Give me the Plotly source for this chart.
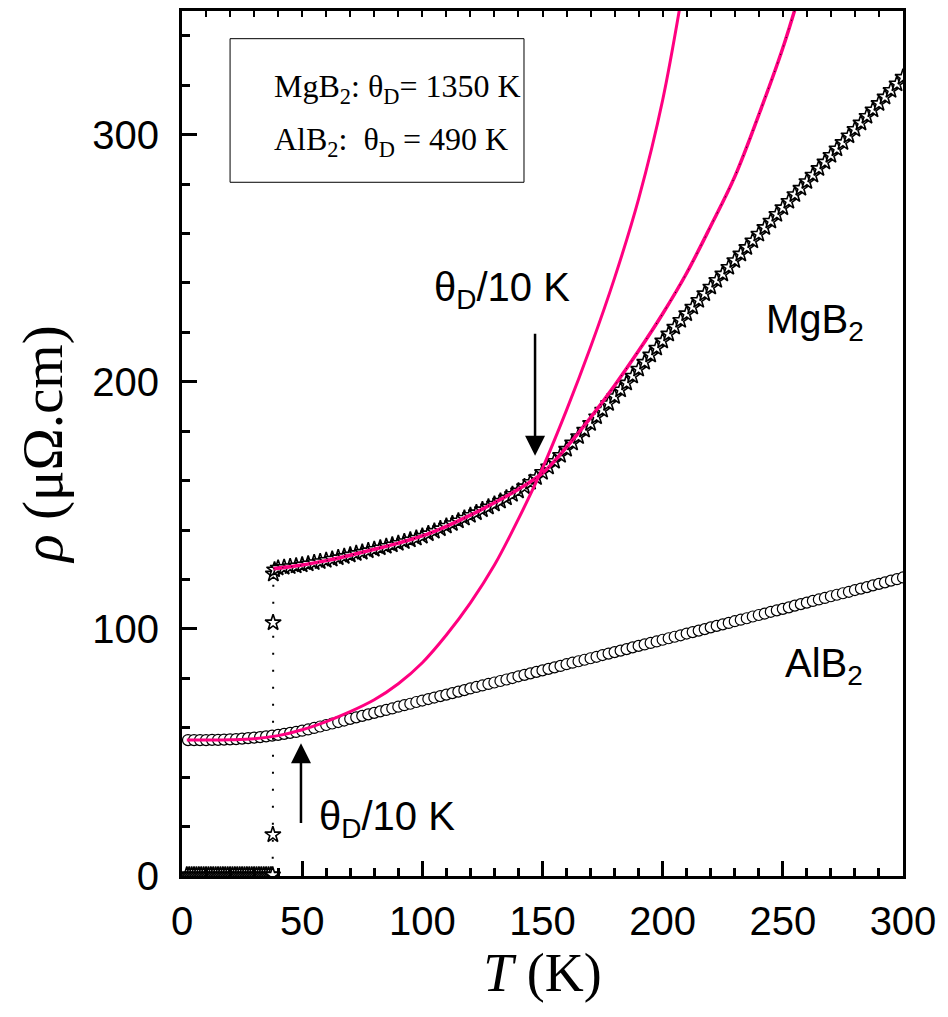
import plotly.graph_objects as go

# ---------------- measured resistivity data ----------------
# MgB2: superconducting state (rho ~ 0) and the transition near Tc
mgb2_sc_T = [2, 3, 4, 5, 6, 7, 8, 9, 10, 11, 12, 13, 14, 15, 16, 17, 18, 19, 20,
             21, 22, 23, 24, 25, 26, 27, 28, 29, 30, 31, 32, 33, 34, 35, 36, 37, 37.7]
mgb2_sc_rho = [0.4] * 37
mgb2_tr_T = [37.8, 37.9, 38.0, 38.5]
mgb2_tr_rho = [16.7, 102.5, 122.2, 123.9]

# MgB2: normal state
mgb2_T = [
    40, 42.5, 45, 47.5, 50, 52.5, 55, 57.5, 60, 62.5, 65, 67.5, 70, 72.5, 75, 77.5,
    80, 82.5, 85, 87.5, 90, 92.5, 95, 97.5, 100, 102.5, 105, 107.5, 110, 112.5, 115, 117.5,
    120, 122.5, 125, 127.5, 130, 132.5, 135, 137.5, 140, 142.5, 145, 147.5, 150, 152.5, 155, 157.5,
    160, 162.5, 165, 167.5, 170, 172.5, 175, 177.5, 180, 182.5, 185, 187.5, 190, 192.5, 195, 197.5,
    200, 202.5, 205, 207.5, 210, 212.5, 215, 217.5, 220, 222.5, 225, 227.5, 230, 232.5, 235, 237.5,
    240, 242.5, 245, 247.5, 250, 252.5, 255, 257.5, 260, 262.5, 265, 267.5, 270, 272.5, 275, 277.5,
    280, 282.5, 285, 287.5, 290, 292.5, 295, 297.5, 300,
]
mgb2_rho = [
    124.6, 124.9, 125.2, 125.5, 125.9, 126.3, 126.8, 127.2, 127.7, 128.2, 128.8, 129.3, 129.9, 130.5, 131.0, 131.6,
    132.2, 132.8, 133.4, 134.0, 134.6, 135.3, 136.0, 136.7, 137.5, 138.5, 139.5, 140.5, 141.6, 142.6, 143.7, 144.8,
    145.9, 147.0, 148.2, 149.3, 150.5, 151.7, 153.0, 154.4, 155.8, 157.5, 159.3, 161.2, 163.3, 165.5, 167.8, 170.2,
    172.7, 175.2, 177.8, 180.4, 183.1, 185.8, 188.5, 191.2, 194.0, 196.7, 199.5, 202.3, 205.1, 207.9, 210.8, 213.6,
    216.5, 219.3, 222.1, 224.8, 227.5, 230.2, 232.9, 235.6, 238.3, 241.0, 243.6, 246.3, 249.0, 251.7, 254.3, 257.0,
    259.7, 262.4, 265.0, 267.7, 270.4, 273.0, 275.7, 278.3, 281.0, 283.6, 286.3, 288.9, 291.6, 294.2, 296.8, 299.5,
    302.1, 304.7, 307.4, 310.0, 312.6, 315.2, 317.9, 320.5, 323.2,
]

# AlB2
alb2_T = [
    2.5, 5, 7.5, 10, 12.5, 15, 17.5, 20, 22.5, 25, 27.5, 30, 32.5, 35, 37.5, 40,
    42.5, 45, 47.5, 50, 52.5, 55, 57.5, 60, 62.5, 65, 67.5, 70, 72.5, 75, 77.5, 80,
    82.5, 85, 87.5, 90, 92.5, 95, 97.5, 100, 102.5, 105, 107.5, 110, 112.5, 115, 117.5, 120,
    122.5, 125, 127.5, 130, 132.5, 135, 137.5, 140, 142.5, 145, 147.5, 150, 152.5, 155, 157.5, 160,
    162.5, 165, 167.5, 170, 172.5, 175, 177.5, 180, 182.5, 185, 187.5, 190, 192.5, 195, 197.5, 200,
    202.5, 205, 207.5, 210, 212.5, 215, 217.5, 220, 222.5, 225, 227.5, 230, 232.5, 235, 237.5, 240,
    242.5, 245, 247.5, 250, 252.5, 255, 257.5, 260, 262.5, 265, 267.5, 270, 272.5, 275, 277.5, 280,
    282.5, 285, 287.5, 290, 292.5, 295, 297.5, 300,
]
alb2_rho = [
    55.0, 55.0, 55.0, 55.0, 55.1, 55.1, 55.2, 55.3, 55.4, 55.6, 55.8, 56.0, 56.2, 56.5, 56.8, 57.1,
    57.5, 57.9, 58.3, 58.8, 59.3, 59.9, 60.5, 61.1, 61.7, 62.3, 62.9, 63.6, 64.2, 64.8, 65.4, 66.0,
    66.6, 67.2, 67.8, 68.5, 69.1, 69.7, 70.4, 71.0, 71.6, 72.2, 72.8, 73.4, 74.0, 74.6, 75.2, 75.9,
    76.5, 77.1, 77.7, 78.3, 78.9, 79.5, 80.1, 80.8, 81.4, 82.0, 82.6, 83.2, 83.8, 84.4, 85.0, 85.7,
    86.3, 86.9, 87.5, 88.1, 88.7, 89.4, 90.0, 90.6, 91.2, 91.8, 92.5, 93.1, 93.7, 94.3, 94.9, 95.6,
    96.2, 96.8, 97.4, 98.1, 98.7, 99.3, 99.9, 100.6, 101.2, 101.8, 102.4, 103.1, 103.7, 104.3, 105.0, 105.6,
    106.2, 106.9, 107.5, 108.1, 108.7, 109.4, 110.0, 110.6, 111.3, 111.9, 112.5, 113.2, 113.8, 114.4, 115.0, 115.7,
    116.3, 116.9, 117.6, 118.2, 118.8, 119.5, 120.1, 120.8,
]

# ---------------- Bloch-Grueneisen fit curves ----------------
fit_mgb2_T = [38, 50, 60, 70, 80, 90, 100, 110, 120, 130, 140, 150, 160, 170, 180, 190,
              200, 210, 220, 230, 240, 250, 260]
fit_mgb2_rho = [124.3, 125.8, 127.6, 129.8, 132.2, 134.7, 137.6, 141.5, 146.0, 151.0, 156.5, 163.0,
                173.5, 185.5, 198.5, 212.5, 227.5, 244.0, 263.0, 283.0, 308.0, 335.0, 367.0]

fit_alb2_T = [2, 10, 20, 30, 40, 50, 60, 70, 80, 90, 100, 110, 120, 130, 140, 150,
              160, 170, 180, 190, 200, 210]
fit_alb2_rho = [55.0, 55.0, 55.1, 55.5, 56.8, 59.2, 62.5, 66.5, 71.3, 77.8, 86.3, 97.5, 110.5, 125.8,
                144.5, 165.0, 188.5, 214.0, 242.0, 274.0, 314.0, 368.0]

# theta_D / 10 markers (arrow tip and tail, T in K, rho in uOhm.cm)
arrow_mgb2 = dict(T=146.9, tip=170.0, tail=220.0)
arrow_alb2 = dict(T=49.5, tip=53.7, tail=20.8)

PINK = "#FF0080"
SANS = "Liberation Sans, Arial, sans-serif"
SERIF = "Liberation Serif, Times New Roman, serif"

fig = go.Figure()

# AlB2 open circles
fig.add_trace(go.Scatter(
    x=alb2_T, y=alb2_rho, mode="markers",
    marker=dict(symbol="circle", size=11, color="white", line=dict(color="black", width=1.2)),
    showlegend=False,
))

# MgB2 open stars joined by a dotted line (through the transition)
all_mg_T = mgb2_sc_T + mgb2_tr_T + mgb2_T
all_mg_rho = mgb2_sc_rho + mgb2_tr_rho + mgb2_rho
fig.add_trace(go.Scatter(
    x=all_mg_T, y=all_mg_rho, mode="lines+markers",
    line=dict(color="black", width=2, dash="2px,15px"),
    marker=dict(symbol="star", size=12, color="white", line=dict(color="black", width=1.6)),
    showlegend=False,
))

# fit curves
fig.add_trace(go.Scatter(
    x=fit_alb2_T, y=fit_alb2_rho, mode="lines",
    line=dict(color=PINK, width=3, shape="spline"), showlegend=False,
))
fig.add_trace(go.Scatter(
    x=fit_mgb2_T, y=fit_mgb2_rho, mode="lines",
    line=dict(color=PINK, width=3.5, shape="spline"), showlegend=False,
))
fig.add_trace(go.Scatter(
    x=fit_mgb2_T, y=fit_mgb2_rho, mode="lines",
    line=dict(color="black", width=1, dash="1px,8px", shape="spline"), showlegend=False,
))

# top axis carrying only small inward ticks
fig.add_trace(go.Scatter(x=[0, 300], y=[0, 0], xaxis="x2", mode="lines",
                         line=dict(width=0), hoverinfo="skip", showlegend=False))

axis_font = dict(family=SANS, size=40, color="black")

fig.update_layout(
    width=948, height=1017,
    margin=dict(l=182, r=45, t=8, b=140.5),
    paper_bgcolor="white", plot_bgcolor="white",
    xaxis=dict(
        range=[0, 300], tickmode="linear", tick0=0, dtick=50,
        ticks="inside", ticklen=15, tickwidth=2.5, tickcolor="black",
        minor=dict(ticks="inside", dtick=10, ticklen=8, tickwidth=2.5, tickcolor="black"),
        showline=True, linewidth=3, linecolor="black", mirror=True,
        showgrid=False, zeroline=False,
        tickfont=axis_font, ticklabelstandoff=8,
        title=dict(text="<i>T</i> (K)", font=dict(family=SERIF, size=54, color="black"), standoff=10),
    ),
    xaxis2=dict(
        range=[0, 300], overlaying="x", side="top", tickmode="linear", tick0=0, dtick=10,
        ticks="inside", ticklen=6, tickwidth=1.5, tickcolor="black",
        showticklabels=False, showgrid=False, zeroline=False, showline=False,
    ),
    yaxis=dict(
        range=[0, 350], tickmode="linear", tick0=0, dtick=100,
        ticks="inside", ticklen=15, tickwidth=2.5, tickcolor="black",
        minor=dict(ticks="inside", dtick=20, ticklen=8, tickwidth=2.5, tickcolor="black"),
        showline=True, linewidth=3, linecolor="black", mirror=True,
        showgrid=False, zeroline=False,
        tickfont=axis_font, ticklabelstandoff=12,
        title=dict(text="<i>ρ</i> (μΩ.cm)", font=dict(family=SERIF, size=57, color="black"), standoff=12),
    ),
)

# Debye temperature box
fig.add_shape(type="rect", xref="x", yref="y", x0=20.0, x1=142.3, y0=280.7, y1=338.8,
              line=dict(color="black", width=1), fillcolor="rgba(0,0,0,0)")

serif_box = dict(family=SERIF, size=32, color="black")
fig.add_annotation(x=37.6, y=318.5, xref="x", yref="y", xanchor="left", yanchor="middle",
                   text="MgB<sub>2</sub>: θ<sub>D</sub>= 1350 K", showarrow=False, font=serif_box)
fig.add_annotation(x=37.6, y=297.0, xref="x", yref="y", xanchor="left", yanchor="middle",
                   text="AlB<sub>2</sub>:\u00a0 θ<sub>D</sub> = 490 K", showarrow=False, font=serif_box)

label_font = dict(family=SANS, size=40, color="black")
fig.add_annotation(x=263.5, y=224.0, xref="x", yref="y", text="MgB<sub>2</sub>",
                   showarrow=False, font=label_font)
fig.add_annotation(x=267.0, y=85.0, xref="x", yref="y", text="AlB<sub>2</sub>",
                   showarrow=False, font=label_font)
fig.add_annotation(x=133.0, y=237.0, xref="x", yref="y", text="θ<sub>D</sub>/10 K",
                   showarrow=False, font=label_font)
fig.add_annotation(x=85.4, y=23.0, xref="x", yref="y", text="θ<sub>D</sub>/10 K",
                   showarrow=False, font=label_font)

# arrows pointing at theta_D/10
for a in (arrow_mgb2, arrow_alb2):
    fig.add_annotation(x=a["T"], y=a["tip"], ax=a["T"], ay=a["tail"],
                       xref="x", yref="y", axref="x", ayref="y", text="",
                       showarrow=True, arrowhead=2, arrowsize=1.6, arrowwidth=2.5,
                       arrowcolor="black")

fig.write_html("out.html")
